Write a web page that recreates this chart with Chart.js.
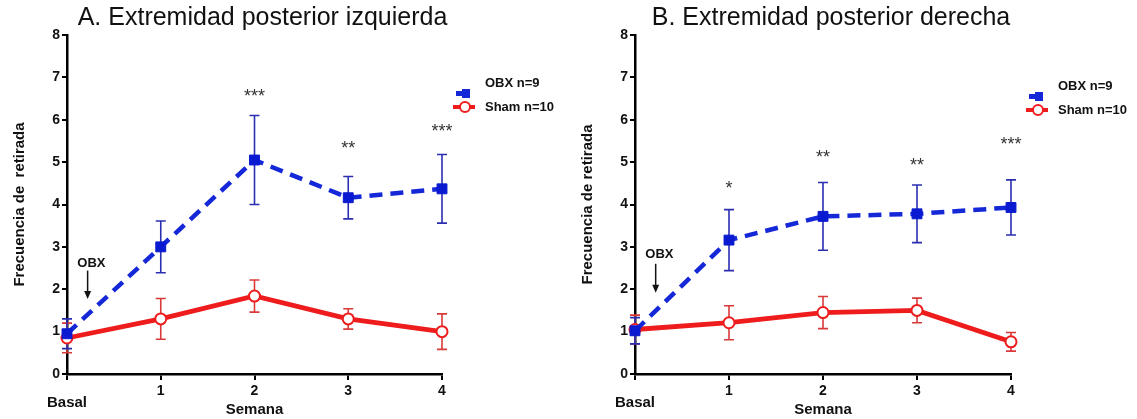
<!DOCTYPE html>
<html>
<head>
<meta charset="utf-8">
<script src="https://cdn.jsdelivr.net/npm/chart.js@4.4.1/dist/chart.umd.min.js"></script>
<style>
  html, body { margin: 0; padding: 0; background: #fff; }
  #wrap { position: relative; width: 1137px; height: 419px; overflow: hidden; }
  canvas { position: absolute; top: 0; }
</style>
</head>
<body>
<div id="wrap">
  <canvas id="chartA" width="560" height="419" style="left:0"></canvas>
  <canvas id="chartB" width="569" height="419" style="left:568px"></canvas>
</div>
<script>
// Semana (0 = Basal)
const weeks = [0, 1, 2, 3, 4];
const yTicks = [0, 1, 2, 3, 4, 5, 6, 7, 8];

// A. Extremidad posterior izquierda
const obxMeanA = [0.95, 3.0, 5.05, 4.16, 4.37];
const obxSemA = [0.35, 0.61, 1.05, 0.5, 0.81];
const shamMeanA = [0.85, 1.3, 1.84, 1.3, 1.0];
const shamSemA = [0.35, 0.48, 0.38, 0.24, 0.42];
const starsA = ['', '', '***', '**', '***'];
const starYA = [null, null, 6.62, 5.4, 5.8];

// B. Extremidad posterior derecha
const obxMeanB = [1.02, 3.16, 3.72, 3.78, 3.93];
const obxSemB = [0.31, 0.72, 0.8, 0.68, 0.65];
const shamMeanB = [1.05, 1.21, 1.45, 1.5, 0.76];
const shamSemB = [0.34, 0.4, 0.38, 0.29, 0.22];
const starsB = ['', '*', '**', '**', '***'];
const starYB = [null, 4.45, 5.2, 5.0, 5.5];

const FONT = "'Liberation Sans', Arial, sans-serif";
const BLUE = '#1528d8';
const BLUE_ERR = '#2a2fb0';
const RED = '#ee1c1c';
const RED_ERR = '#d83a3a';

// error bars, asterisks, OBX arrow, legend and title
const extrasPlugin = {
  id: 'extras',
  beforeDatasetsDraw(chart, args, opts) {
    const ctx = chart.ctx;
    const xs = chart.scales.x, ys = chart.scales.y;
    opts.errors.forEach(e => {
      ctx.save();
      ctx.strokeStyle = e.color;
      ctx.lineWidth = 1.6;
      e.mean.forEach((m, i) => {
        const x = xs.getPixelForValue(weeks[i]);
        const t = ys.getPixelForValue(m + e.sem[i]);
        const b = ys.getPixelForValue(m - e.sem[i]);
        ctx.beginPath();
        ctx.moveTo(x, t); ctx.lineTo(x, b);
        ctx.moveTo(x - 5, t); ctx.lineTo(x + 5, t);
        ctx.moveTo(x - 5, b); ctx.lineTo(x + 5, b);
        ctx.stroke();
      });
      ctx.restore();
    });
  },
  afterDraw(chart, args, opts) {
    const ctx = chart.ctx;
    const xs = chart.scales.x, ys = chart.scales.y;
    ctx.save();

    // title
    ctx.fillStyle = '#111';
    ctx.font = '25px ' + FONT;
    ctx.textAlign = 'center';
    ctx.textBaseline = 'middle';
    ctx.fillText(opts.title, (chart.chartArea.left + chart.chartArea.right) / 2 + 8, 18);

    // asterisks
    ctx.font = '18px ' + FONT;
    ctx.fillStyle = '#333';
    opts.stars.forEach((s, i) => {
      if (!s) return;
      ctx.fillText(s, xs.getPixelForValue(weeks[i]), ys.getPixelForValue(opts.starY[i]) + 4);
    });

    // OBX arrow
    const ax = xs.getPixelForValue(opts.arrow.x);
    ctx.font = 'bold 13px ' + FONT;
    ctx.fillStyle = '#111';
    ctx.fillText('OBX', xs.getPixelForValue(opts.arrow.textX), ys.getPixelForValue(opts.arrow.textY));
    const a0 = ys.getPixelForValue(opts.arrow.from);
    const a1 = ys.getPixelForValue(opts.arrow.to);
    ctx.strokeStyle = '#111';
    ctx.lineWidth = 1.5;
    ctx.beginPath(); ctx.moveTo(ax, a0); ctx.lineTo(ax, a1 - 4); ctx.stroke();
    ctx.beginPath();
    ctx.moveTo(ax, a1); ctx.lineTo(ax - 3.5, a1 - 8); ctx.lineTo(ax + 3.5, a1 - 8);
    ctx.closePath(); ctx.fill();

    // legend
    const lg = opts.legend;
    ctx.textAlign = 'left';
    ctx.font = 'bold 13px ' + FONT;
    ctx.fillStyle = '#111';
    ctx.fillText('OBX n=9', lg.x + 23, lg.y);
    ctx.fillText('Sham n=10', lg.x + 23, lg.y + 24);
    // blue marker
    ctx.fillStyle = BLUE;
    ctx.fillRect(lg.x - 6, lg.y + 8, 8, 5);
    ctx.fillRect(lg.x, lg.y + 6, 8, 9);
    // red marker
    ctx.strokeStyle = RED;
    ctx.lineWidth = 4;
    ctx.beginPath(); ctx.moveTo(lg.x - 9, lg.y + 24); ctx.lineTo(lg.x + 13, lg.y + 24); ctx.stroke();
    ctx.fillStyle = '#fff';
    ctx.lineWidth = 2;
    ctx.beginPath(); ctx.arc(lg.x + 3, lg.y + 24, 5, 0, Math.PI * 2); ctx.fill(); ctx.stroke();

    ctx.restore();
  }
};

function makeChart(id, cfg) {
  return new Chart(document.getElementById(id), {
    type: 'line',
    data: {
      datasets: [
        {
          label: 'OBX n=9',
          data: weeks.map((w, i) => ({ x: w, y: cfg.obxMean[i] })),
          borderColor: BLUE,
          backgroundColor: BLUE,
          borderWidth: 4.5,
          borderDash: [13, 8],
          pointStyle: 'rect',
          pointRadius: 7,
          pointBorderWidth: 1,
          pointBackgroundColor: '#0a1ad0',
          pointBorderColor: '#0a1ad0',
          clip: false
        },
        {
          label: 'Sham n=10',
          data: weeks.map((w, i) => ({ x: w, y: cfg.shamMean[i] })),
          borderColor: RED,
          backgroundColor: '#fff',
          borderWidth: 4.8,
          pointStyle: 'circle',
          pointRadius: 5.5,
          pointBorderWidth: 2,
          pointBackgroundColor: '#fff',
          pointBorderColor: RED,
          clip: false
        }
      ]
    },
    options: {
      responsive: false,
      animation: false,
      layout: { padding: { left: 10, right: cfg.padRight, top: 35, bottom: 0 } },
      plugins: {
        legend: { display: false },
        tooltip: { enabled: false },
        extras: {
          title: cfg.title,
          stars: cfg.stars,
          starY: cfg.starY,
          arrow: { x: 0.22, textX: 0.26, textY: cfg.arrowTextY, from: cfg.arrowFrom, to: cfg.arrowTo },
          legend: cfg.legend,
          errors: [
            { mean: cfg.shamMean, sem: cfg.shamSem, color: RED_ERR },
            { mean: cfg.obxMean, sem: cfg.obxSem, color: BLUE_ERR }
          ]
        }
      },
      scales: {
        x: {
          type: 'linear',
          min: 0,
          max: 4,
          afterFit(scale) { scale.height = 45; },
          afterBuildTicks(scale) { scale.ticks = weeks.map(v => ({ value: v })); },
          border: { color: '#000', width: 2.5 },
          grid: { drawOnChartArea: false, drawTicks: true, tickLength: 6, color: '#000', lineWidth: 2 },
          ticks: {
            autoSkip: false,
            maxRotation: 0,
            padding: 3,
            color: '#111',
            font: c => c.tick && c.tick.value === 0
              ? { family: FONT, size: 15, weight: 'bold', lineHeight: 0.9 }
              : { family: FONT, size: 14, weight: 'bold' },
            callback: v => v === 0 ? ['', 'Basal'] : String(v)
          },
          title: {
            display: true,
            text: 'Semana',
            color: '#111',
            font: { family: FONT, size: 15, weight: 'bold' },
            padding: { top: 0, bottom: 0 }
          }
        },
        y: {
          min: 0,
          max: 8,
          afterFit(scale) { scale.width = 57; },
          afterBuildTicks(scale) { scale.ticks = yTicks.map(v => ({ value: v })); },
          border: { color: '#000', width: 2.5 },
          grid: { drawOnChartArea: false, drawTicks: true, tickLength: 5, color: '#000', lineWidth: 2 },
          ticks: {
            padding: 2,
            color: '#111',
            font: { family: FONT, size: 14, weight: 'bold' }
          },
          title: {
            display: true,
            text: cfg.yTitle,
            color: '#111',
            font: { family: FONT, size: 15, weight: 'bold' },
            padding: { top: 1, bottom: 0 }
          }
        }
      }
    },
    plugins: [extrasPlugin]
  });
}

makeChart('chartA', {
  title: 'A. Extremidad posterior izquierda',
  yTitle: 'Frecuencia de  retirada',
  obxMean: obxMeanA, obxSem: obxSemA,
  shamMean: shamMeanA, shamSem: shamSemA,
  stars: starsA, starY: starYA,
  arrowTextY: 2.62, arrowFrom: 2.44, arrowTo: 1.77,
  legend: { x: 462, y: 83 },
  padRight: 118
});

makeChart('chartB', {
  title: 'B. Extremidad posterior derecha',
  yTitle: 'Frecuencia de retirada',
  obxMean: obxMeanB, obxSem: obxSemB,
  shamMean: shamMeanB, shamSem: shamSemB,
  stars: starsB, starY: starYB,
  arrowTextY: 2.82, arrowFrom: 2.6, arrowTo: 1.92,
  legend: { x: 467, y: 86 },
  padRight: 126
});
</script>
</body>
</html>
